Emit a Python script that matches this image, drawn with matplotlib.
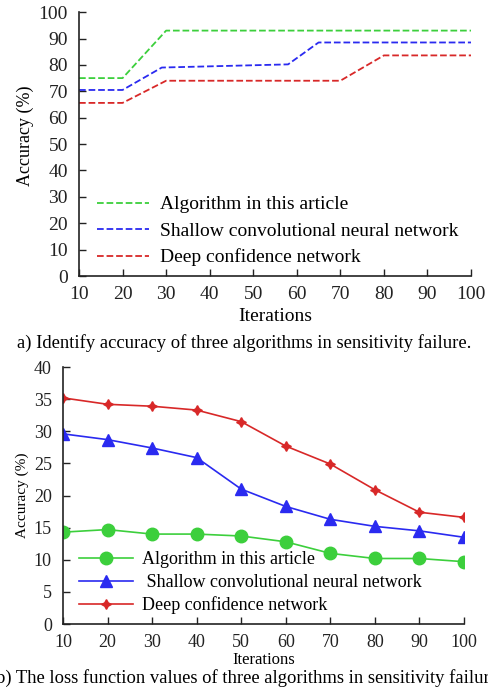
import matplotlib.pyplot as plt

plt.rcParams['font.family'] = ['Liberation Serif', 'DejaVu Serif']

# top chart: accuracy (dashed step-like lines)
algo_x = [10, 20, 30, 100]
algo_y = [75, 75, 93, 93]
shallow_x = [10, 20, 29, 58, 65, 100]
shallow_y = [70.5, 70.5, 79, 80.2, 88.5, 88.5]
deep_x = [10, 20, 30, 70, 80, 100]
deep_y = [65.6, 65.6, 74, 74, 83.6, 83.6]

# bottom chart: loss values
iters = [10, 20, 30, 40, 50, 60, 70, 80, 90, 100]
algo_loss = [14.3, 14.7, 14.0, 14.0, 13.7, 12.8, 11.0, 10.2, 10.2, 9.7]
shallow_loss = [29.6, 28.7, 27.4, 25.9, 21.0, 18.3, 16.3, 15.2, 14.5, 13.5]
deep_loss = [35.2, 34.2, 33.9, 33.3, 31.5, 27.7, 24.9, 20.9, 17.4, 16.6]

labels = ['Algorithm in this article', 'Shallow convolutional neural network',
          'Deep confidence network']
green = '#3ccf3c'
blue = '#2a2af0'
red = '#d82828'

fig = plt.figure(figsize=(4.89, 6.89), dpi=100)


def style(ax, size):
    ax.spines['top'].set_visible(False)
    ax.spines['right'].set_visible(False)
    for s in ['left', 'bottom']:
        ax.spines[s].set_linewidth(1.2)
        ax.spines[s].set_color('#222222')
    ax.tick_params(direction='in', length=5, width=1, labelsize=size, colors='#222222')
    ax.tick_params(axis='y', pad=8)
    ax.tick_params(axis='x', pad=7)
    ax.set_xticks(range(10, 101, 10))
    ax.set_xlim(10, 100)


# a)
ax1 = fig.add_axes([0.1616, 0.5994, 0.8016, 0.383])
ax1.plot(algo_x, algo_y, '--', color=green, lw=1.3, label=labels[0])
ax1.plot(shallow_x, shallow_y, '--', color=blue, lw=1.3, label=labels[1])
ax1.plot(deep_x, deep_y, '--', color=red, lw=1.3, label=labels[2])
style(ax1, 14)
ax1.set_ylim(0, 100)
ax1.set_yticks(range(0, 101, 10))
ax1.set_xlabel('Iterations', fontsize=14, labelpad=4)
ax1.set_ylabel('Accuracy (%)', fontsize=13)
ax1.yaxis.set_label_coords(-0.115, 0.53)
ax1.legend(loc='lower left', bbox_to_anchor=(0.0, -0.03), frameon=False,
           fontsize=14, handlelength=2.7, handletextpad=0.55, labelspacing=0.45)
fig.text(0.5, 1 - 343 / 689, 'a) Identify accuracy of three algorithms in sensitivity failure.',
         ha='center', va='center', fontsize=13.4)

# b)
ax2 = fig.add_axes([0.1288, 0.0943, 0.820, 0.373])
ax2.plot(iters, algo_loss, '-', color=green, lw=1.2, marker='o', ms=9, label=labels[0])
ax2.plot(iters, shallow_loss, '-', color=blue, lw=1.2, marker='^', ms=8, label=' ' + labels[1])
ax2.plot(iters, deep_loss, '-', color=red, lw=1.2, marker=(4, 1, 0), ms=7, label=labels[2])
style(ax2, 13)
ax2.set_ylim(0, 40)
ax2.set_yticks(range(0, 41, 5))
ax2.set_xlabel('Iterations', fontsize=12, labelpad=1)
ax2.set_ylabel('Accuracy (%)', fontsize=11)
ax2.yaxis.set_label_coords(-0.085, 0.5)
ax2.legend(loc='lower left', bbox_to_anchor=(0.0, -0.025), frameon=False,
           fontsize=13, handlelength=3.0, handletextpad=0.5, labelspacing=0.3)
fig.text(0.51, 1 - 678 / 689, 'b) The loss function values of three algorithms in sensitivity failure.',
         ha='center', va='center', fontsize=13.4)

fig.savefig('out.png', dpi=100)
